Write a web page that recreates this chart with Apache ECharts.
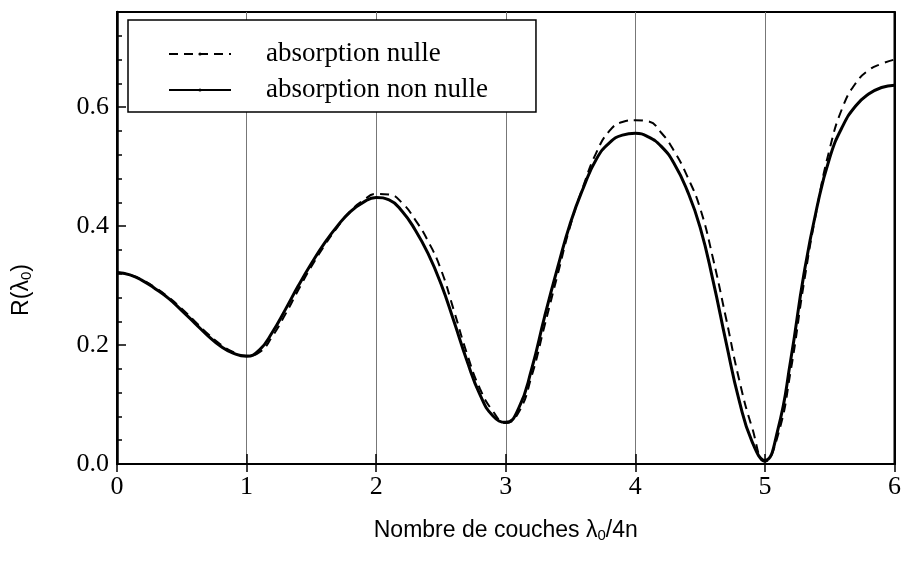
<!DOCTYPE html>
<html>
<head>
<meta charset="utf-8">
<script src="https://cdn.jsdelivr.net/npm/echarts@6/dist/echarts.min.js"></script>
<style>html,body{margin:0;padding:0;background:#fff}#c{width:904px;height:561px}</style>
</head>
<body>
<div id="c"></div>
<script>
// layer count lambda0/4n
var xs = [0.0,0.1,0.2,0.3,0.4,0.5,0.6,0.7,0.8,0.9,1.0,1.1,1.2,1.3,1.4,1.5,1.6,1.7,1.8,1.9,2.0,
          2.1,2.2,2.3,2.4,2.5,2.6,2.7,2.8,2.9,3.0,3.1,3.2,3.3,3.4,3.5,3.6,3.7,3.8,3.9,4.0,
          4.1,4.2,4.3,4.4,4.5,4.6,4.7,4.8,4.9,5.0,5.1,5.2,5.3,5.4,5.5,5.6,5.7,5.8,5.9,6.0];
// absorption non nulle (solid)
var solidR = [0.322,0.318,0.308,0.294,0.278,0.258,0.237,0.216,0.198,0.186,0.181,0.192,0.222,0.260,0.300,0.337,0.371,0.400,0.424,0.440,0.448,
              0.444,0.425,0.394,0.354,0.303,0.240,0.174,0.117,0.081,0.070,0.094,0.160,0.248,0.330,0.406,0.465,0.513,0.540,0.553,0.556,
              0.550,0.534,0.505,0.460,0.398,0.308,0.205,0.108,0.038,0.006,0.058,0.176,0.318,0.430,0.515,0.568,0.602,0.622,0.633,0.637];
// absorption nulle (dashed)
var dashedR = [0.322,0.318,0.309,0.296,0.280,0.261,0.240,0.219,0.201,0.188,0.182,0.188,0.215,0.252,0.293,0.332,0.367,0.398,0.425,0.443,0.454,
               0.453,0.439,0.411,0.375,0.327,0.258,0.186,0.127,0.089,0.069,0.087,0.148,0.233,0.318,0.402,0.468,0.524,0.560,0.575,0.578,
               0.576,0.557,0.526,0.484,0.430,0.345,0.245,0.143,0.062,0.004,0.048,0.158,0.303,0.428,0.530,0.600,0.640,0.662,0.673,0.680];
var xTicks = [0,1,2,3,4,5,6];
var yTickLabels = ['0.0','0.2','0.4','0.6'];
var seriesNames = ['absorption nulle','absorption non nulle'];

function pairs(a){ return xs.map(function(x,i){ return [x,a[i]]; }); }

var chart = echarts.init(document.getElementById('c'), null, {renderer:'canvas'});
var serif = 'Liberation Serif';
var sans = 'Liberation Sans';
chart.setOption({
  animation:false,
  backgroundColor:'#fff',
  color:['#000','#000'],
  grid:{left:117,right:7,top:12,bottom:97,show:true,borderColor:'#000',borderWidth:2,backgroundColor:'transparent'},
  legend:{
    left:128, top:20, orient:'vertical',
    data:seriesNames,
    itemWidth:62, itemHeight:4, itemGap:6,
    padding:[19,48,7,40],
    borderColor:'#000', borderWidth:1.5, backgroundColor:'#fff',
    textStyle:{fontFamily:serif,fontSize:27,color:'#000',lineHeight:30,padding:[0,0,0,30]}
  },
  xAxis:[{
    type:'value', min:0, max:6, interval:1,
    axisLine:{show:true,lineStyle:{color:'#000',width:2}},
    axisTick:{show:true,inside:true,length:10,lineStyle:{color:'#000',width:1.5}},
    splitLine:{show:true,lineStyle:{color:'#777',width:1}},
    axisLabel:{fontFamily:serif,fontSize:26,color:'#000',margin:10,
      formatter:function(v){ return xTicks.indexOf(v)>=0 ? String(v) : ''; }},
    name:'{a|Nombre de couches λ}{s|0}{a|/4n}',
    nameLocation:'middle', nameGap:54,
    nameTextStyle:{rich:{
      a:{fontFamily:sans,fontSize:23,color:'#000'},
      s:{fontFamily:sans,fontSize:15,color:'#000',verticalAlign:'bottom',padding:[10,0,0,0]}
    }}
  },{
    type:'value', min:0, max:6, interval:1, position:'top',
    axisLine:{show:true,lineStyle:{color:'#000',width:2}},
    axisTick:{show:true,inside:true,length:8,lineStyle:{color:'#000',width:1.5}},
    splitLine:{show:false}, axisLabel:{show:false}
  }],
  yAxis:[{
    type:'value', min:0, max:0.76, interval:0.2,
    axisLine:{show:true,lineStyle:{color:'#000',width:2.5}},
    axisTick:{show:true,inside:true,length:9,lineStyle:{color:'#000',width:1.5}},
    splitLine:{show:false},
    axisLabel:{fontFamily:serif,fontSize:26,color:'#000',margin:8,showMaxLabel:false,
      formatter:function(v){ var s=v.toFixed(1); return yTickLabels.indexOf(s)>=0 ? s : ''; }}
  },{
    type:'value', min:0, max:0.76, interval:0.04, position:'left',
    axisLine:{show:false},
    axisTick:{show:true,inside:true,length:5,lineStyle:{color:'#000',width:1.5}},
    splitLine:{show:false}, axisLabel:{show:false}
  },{
    type:'value', min:0, max:0.76, interval:0.2, position:'right',
    axisLine:{show:true,lineStyle:{color:'#000',width:2}},
    axisTick:{show:false}, splitLine:{show:false}, axisLabel:{show:false}
  }],
  graphic:[{
    type:'text', x:22, y:290, rotation:Math.PI/2,
    style:{
      text:'{a|R(λ}{s|0}{a|)}',
      align:'center', verticalAlign:'middle',
      rich:{
        a:{fontFamily:sans,fontSize:23,fill:'#000'},
        s:{fontFamily:sans,fontSize:15,fill:'#000',verticalAlign:'bottom',padding:[10,0,0,0]}
      }
    }
  }],
  series:[{
    name:seriesNames[0], type:'line', smooth:true, symbol:'none',
    data:pairs(dashedR),
    itemStyle:{color:'#000'},
    lineStyle:{color:'#000',width:2,type:[9,6]}
  },{
    name:seriesNames[1], type:'line', smooth:true, symbol:'none',
    data:pairs(solidR),
    itemStyle:{color:'#000'},
    lineStyle:{color:'#000',width:3,type:'solid'}
  }]
});
</script>
</body>
</html>
